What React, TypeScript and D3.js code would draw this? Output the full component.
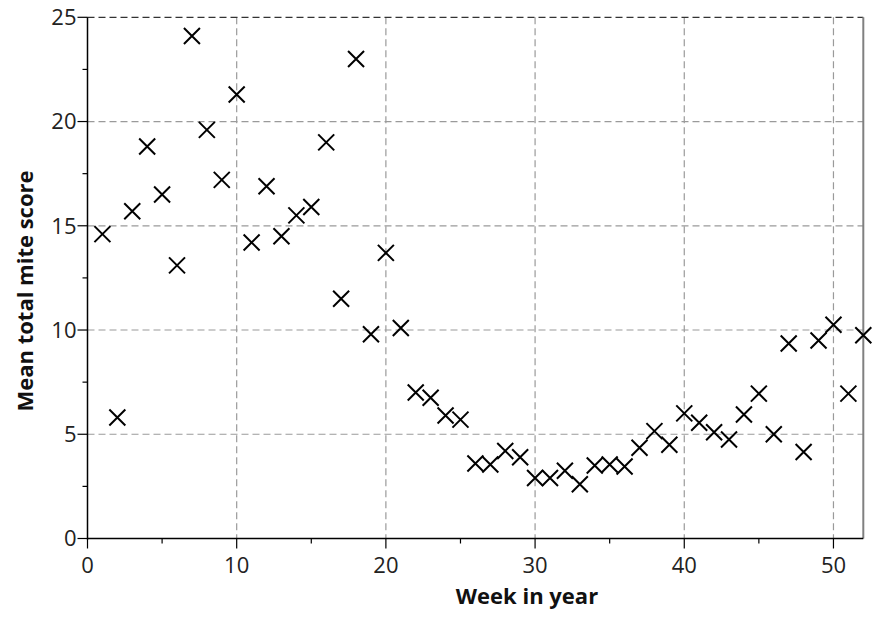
import * as d3 from "d3"

const weeks = Array.from({ length: 52 }, (_, i) => i + 1)
const scores = [
  14.6, 5.8, 15.7, 18.8, 16.5, 13.1, 24.1, 19.6, 17.2, 21.3,
  14.2, 16.9, 14.5, 15.5, 15.9, 19.0, 11.5, 23.0, 9.8, 13.7,
  10.1, 7.0, 6.75, 5.9, 5.7, 3.6, 3.55, 4.2, 3.9, 2.9,
  2.9, 3.25, 2.6, 3.5, 3.55, 3.45, 4.35, 5.15, 4.5, 6.0,
  5.55, 5.1, 4.75, 5.95, 6.95, 5.0, 9.35, 4.15, 9.5, 10.25,
  6.95, 9.75,
]
const xTicks = [0, 10, 20, 30, 40, 50]
const xMinor = [5, 15, 25, 35, 45]
const yTicks = [0, 5, 10, 15, 20, 25]
const yMinor = [2.5, 7.5, 12.5, 17.5, 22.5]

export default function App() {
  const width = 877
  const height = 619
  const left = 87.5
  const right = 863.3
  const top = 17.3
  const bottom = 538.5

  const x = d3.scaleLinear().domain([0, 52]).range([left, right])
  const y = d3.scaleLinear().domain([0, 25]).range([bottom, top])

  const font = "'Open Sans', Lato, sans-serif"
  const grid = "#9a9a9a"
  const m = 8

  return (
    <svg
      width={width}
      height={height}
      style={{ position: "absolute", left: 0, top: 0, background: "#fff" }}
    >
      {/* grid */}
      {xTicks.filter((t) => t > 0).map((t) => (
        <line key={"gx" + t} x1={x(t)} x2={x(t)} y1={top} y2={bottom}
          stroke={grid} strokeWidth={1.2} strokeDasharray="7,4" />
      ))}
      {yTicks.filter((t) => t > 0).map((t) => (
        <line key={"gy" + t} x1={left} x2={right} y1={y(t)} y2={y(t)}
          stroke={t === 25 ? "#333" : grid} strokeWidth={1.2} strokeDasharray="7,4" />
      ))}

      {/* frame */}
      <line x1={right} x2={right} y1={top} y2={bottom} stroke="#808080" strokeWidth={2} />
      <line x1={left} x2={left} y1={top} y2={bottom + 1} stroke="#000" strokeWidth={1.5} />
      <line x1={left} x2={right} y1={bottom} y2={bottom} stroke="#000" strokeWidth={1.5} />

      {/* y ticks */}
      {yTicks.map((t) => (
        <g key={"yt" + t}>
          <line x1={left - 10} x2={left} y1={y(t)} y2={y(t)} stroke="#000" strokeWidth={1.2} />
          <text x={left - 11} y={y(t)} dy="0.36em" textAnchor="end"
            fontFamily={font} fontSize={22} fill="#222">{t}</text>
        </g>
      ))}
      {yMinor.map((t) => (
        <line key={"ym" + t} x1={left - 5} x2={left} y1={y(t)} y2={y(t)} stroke="#000" strokeWidth={1.2} />
      ))}

      {/* x ticks */}
      {xTicks.map((t) => (
        <g key={"xt" + t}>
          <line x1={x(t)} x2={x(t)} y1={bottom} y2={bottom + 10} stroke="#000" strokeWidth={1.2} />
          <text x={x(t)} y={573} textAnchor="middle"
            fontFamily={font} fontSize={22} fill="#222">{t}</text>
        </g>
      ))}
      {xMinor.map((t) => (
        <line key={"xm" + t} x1={x(t)} x2={x(t)} y1={bottom} y2={bottom + 5} stroke="#000" strokeWidth={1.2} />
      ))}

      {/* points */}
      {weeks.map((w, i) => {
        const cx = x(w)
        const cy = y(scores[i])
        return (
          <path key={w}
            d={`M${cx - m},${cy - m}L${cx + m},${cy + m}M${cx - m},${cy + m}L${cx + m},${cy - m}`}
            stroke="#000" strokeWidth={2} fill="none" />
        )
      })}

      {/* titles */}
      <text x={527} y={604} textAnchor="middle" fontFamily={font}
        fontSize={22} fontWeight="bold" fill="#111">Week in year</text>
      <text transform={`translate(33,291) rotate(-90)`} textAnchor="middle"
        fontFamily={font} fontSize={22} fontWeight="bold" fill="#111">Mean total mite score</text>
    </svg>
  )
}
